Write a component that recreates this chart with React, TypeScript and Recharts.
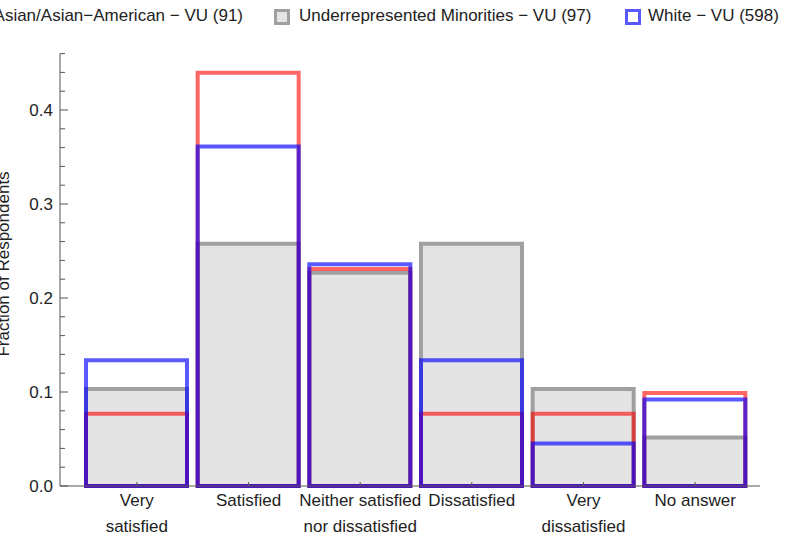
import { BarChart, Bar, XAxis, YAxis } from "recharts";

const categories = [
  "Very\nsatisfied",
  "Satisfied",
  "Neither satisfied\nnor dissatisfied",
  "Dissatisfied",
  "Very\ndissatisfied",
  "No answer",
];
const asianValues = [0.0769, 0.4396, 0.2308, 0.0769, 0.0769, 0.0989];
const minorityValues = [0.1031, 0.2577, 0.2268, 0.2577, 0.1031, 0.0515];
const whiteValues = [0.1338, 0.3612, 0.2358, 0.1338, 0.0452, 0.092];
const yTicks = [
  0, 0.02, 0.04, 0.06, 0.08, 0.1, 0.12, 0.14, 0.16, 0.18, 0.2, 0.22, 0.24,
  0.26, 0.28, 0.3, 0.32, 0.34, 0.36, 0.38, 0.4, 0.42, 0.44, 0.46,
];
const legendLabels = [
  "Asian/Asian\u2212American \u2212 VU (91)",
  "Underrepresented Minorities \u2212 VU (97)",
  "White \u2212 VU (598)",
];

const data = categories.map((c, i) => ({
  name: c,
  asian: asianValues[i],
  minority: minorityValues[i],
  white: whiteValues[i],
}));

const FONT = "'Liberation Sans', Arial, sans-serif";
const AXIS = "#555";
const FS = 17;

const YTick = (props: any) => {
  const { x, y, payload } = props;
  const v = payload.value;
  const major = Math.abs(v * 10 - Math.round(v * 10)) < 1e-6;
  return (
    <g>
      <line x1={x} x2={x + (major ? 8 : 5)} y1={y} y2={y} stroke={AXIS} />
      {major && (
        <text x={x - 7} y={y} dy={6} textAnchor="end" fontSize={FS} fontFamily={FONT} fill="#222">
          {v.toFixed(1)}
        </text>
      )}
    </g>
  );
};

const XTick = (props: any) => {
  const { x, y, payload } = props;
  const lines = String(payload.value).split("\n");
  return (
    <g>
      <line x1={x} x2={x} y1={y} y2={y - 4} stroke={AXIS} />
      <text x={x} y={y + 20} textAnchor="middle" fontSize={FS} fontFamily={FONT} fill="#222">
        {lines.map((l, i) => (
          <tspan key={i} x={x} dy={i === 0 ? 0 : 26}>
            {l}
          </tspan>
        ))}
      </text>
    </g>
  );
};

const Swatch = ({ left, border, fill }: { left: number; border: string; fill: string }) => (
  <div
    style={{
      position: "absolute",
      left,
      top: 9,
      width: 10,
      height: 10,
      border: `3px solid ${border}`,
      background: fill,
    }}
  />
);

export default function App() {
  return (
    <div style={{ position: "absolute", left: 0, top: 0, width: 798, height: 541, overflow: "hidden", background: "#fff" }}>
      <div style={{ position: "absolute", left: 0, top: 0, width: 798, height: 30, fontFamily: FONT, fontSize: FS, color: "#222" }}>
        <Swatch left={-32} border="rgba(255,0,0,0.6)" fill="#fff" />
        <div style={{ position: "absolute", right: 798 - 243, top: 6, whiteSpace: "nowrap" }}>{legendLabels[0]}</div>
        <Swatch left={274} border="#a0a0a0" fill="#e4e4e4" />
        <div style={{ position: "absolute", left: 299, top: 6, whiteSpace: "nowrap" }}>{legendLabels[1]}</div>
        <Swatch left={625} border="rgba(0,0,255,0.65)" fill="#fff" />
        <div style={{ position: "absolute", left: 648, top: 6, whiteSpace: "nowrap" }}>{legendLabels[2]}</div>
      </div>
      <BarChart
        width={798}
        height={541}
        data={data}
        margin={{ top: 53.6, right: 38, bottom: 0, left: 0 }}
        barSize={101}
      >
        <XAxis
          xAxisId="g"
          dataKey="name"
          height={55}
          padding={{ left: 21, right: 9 }}
          interval={0}
          tickSize={0}
          tickMargin={0}
          tickLine={false}
          tick={<XTick />}
          axisLine={{ stroke: AXIS }}
        />
        <XAxis xAxisId="r" dataKey="name" height={0} padding={{ left: 21, right: 9 }} hide />
        <XAxis xAxisId="b" dataKey="name" height={0} padding={{ left: 21, right: 9 }} hide />
        <YAxis
          width={60}
          domain={[0, 0.46]}
          ticks={yTicks}
          interval={0}
          tickSize={0}
          tickMargin={0}
          tickLine={false}
          tick={<YTick />}
          axisLine={{ stroke: AXIS }}
          label={() => (
            <text
              transform="translate(9,264) rotate(-90)"
              textAnchor="middle"
              fontSize={FS}
              fontFamily={FONT}
              fill="#222"
            >
              Fraction of Respondents
            </text>
          )}
        />
        <Bar
          xAxisId="g"
          dataKey="minority"
          fill="#e4e4e4"
          stroke="#a0a0a0"
          strokeWidth={4}
          isAnimationActive={false}
        />
        <Bar
          xAxisId="r"
          dataKey="asian"
          fill="none"
          stroke="#ff0000"
          strokeOpacity={0.6}
          strokeWidth={4}
          isAnimationActive={false}
        />
        <Bar
          xAxisId="b"
          dataKey="white"
          fill="none"
          stroke="#0000ff"
          strokeOpacity={0.65}
          strokeWidth={4}
          isAnimationActive={false}
        />
      </BarChart>
    </div>
  );
}
